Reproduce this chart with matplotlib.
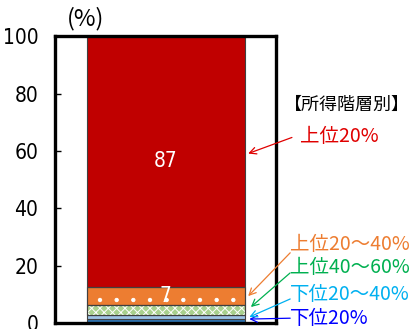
import matplotlib.pyplot as plt

# 所得階層別の構成比 (%), 下から積み上げ
groups = ['下位20%', '下位20～40%', '上位40～60%', '上位20～40%', '上位20%']
shares = [1.3, 1.5, 3.4, 6.5, 87.3]
colors = ['#2e75b6', '#9dc3e6', '#a9d18e', '#ed7d31', '#c00000']
hatches = [None, None, 'xxxx', '.', None]
text_colors = ['#0000ff', '#00b0f0', '#00b050', '#ed7d31', '#e00000']
value_labels = ['', '', '', '7', '87']

yticks = [0, 20, 40, 60, 80, 100]

plt.rcParams['font.family'] = ['Noto Sans CJK JP', 'DejaVu Sans']
plt.rcParams['hatch.linewidth'] = 0.7

num_font = dict(family='DejaVu Sans', stretch='condensed')

fig = plt.figure(figsize=(4.14, 3.29), dpi=100)
ax = fig.add_axes([0.133, 0.018, 0.534, 0.872])

bottom = 0
for val, c, h, lab in zip(shares, colors, hatches, value_labels):
    ax.bar(0, val, bottom=bottom, width=1.0, color=c, edgecolor='#404040',
           linewidth=0.8, zorder=2)
    if h:
        ax.bar(0, val, bottom=bottom, width=1.0, fill=False, edgecolor='white',
               hatch=h, linewidth=0, zorder=3)
        ax.bar(0, val, bottom=bottom, width=1.0, fill=False, edgecolor='#404040',
               linewidth=0.8, zorder=4)
    if lab:
        ax.text(0, bottom + val / 2, lab, color='white', ha='center', va='center',
                fontsize=15, zorder=5, **num_font)
    bottom += val

ax.set_xlim(-0.7, 0.7)
ax.set_ylim(0, 100)
ax.set_xticks([])
ax.set_yticks(yticks)
ax.tick_params(axis='y', direction='in', length=4, width=1, pad=12)
ax.set_yticklabels([str(v) for v in yticks], fontsize=15, **num_font)
for s in ax.spines.values():
    s.set_linewidth(2.4)

ax.text(-0.51, 102, '(%)', ha='center', va='bottom', fontsize=17, clip_on=False)

# 凡例代わりの注記と矢印
ax.text(0.75, 75.9, '【所得階層別】', ha='left', va='center', fontsize=13,
        color='black', clip_on=False)
label_y = [1.6, 10.1, 19.2, 27.4, 64.9]
label_x = [0.789, 0.789, 0.789, 0.789, 0.852]
arrow_from = [(0.789, 1.7), (0.789, 8.4), (0.789, 17.5), (0.789, 24.5), (0.8, 64.7)]
arrow_to = [(0.53, 1.4), (0.53, 2.1), (0.54, 5.6), (0.523, 9.4), (0.523, 59.1)]
for g, tc, x, y, a0, a1 in zip(groups, text_colors, label_x, label_y, arrow_from, arrow_to):
    ax.text(x, y, g, color=tc, ha='left', va='center', fontsize=14, clip_on=False)
    ax.annotate('', xy=a1, xytext=a0, annotation_clip=False,
                arrowprops=dict(arrowstyle='->', color=tc, lw=0.9,
                                shrinkA=0, shrinkB=0, mutation_scale=12))

fig.savefig('out.png', dpi=100)
